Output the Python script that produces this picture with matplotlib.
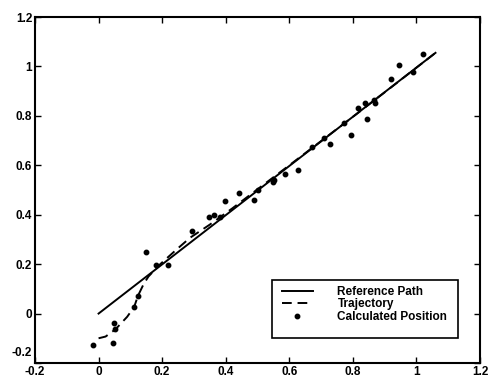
import matplotlib.pyplot as plt
import matplotlib.transforms as mtransforms
from matplotlib.patches import Rectangle
import numpy as np

plt.rcParams['font.family'] = ['Liberation Sans', 'DejaVu Sans']

# Reference path (straight line)
ref_x = [0.0, 1.06]
ref_y = [0.0, 1.055]

# Trajectory (dashed)
traj_x = [0.0, 0.022, 0.053, 0.09, 0.112, 0.124, 0.142, 0.157, 0.194, 0.246,
          0.288, 0.35, 0.42, 0.5, 0.6, 0.7, 0.8, 0.9, 1.0, 1.06]
traj_y = [-0.10, -0.093, -0.064, -0.013, 0.027, 0.072, 0.12, 0.15, 0.2, 0.26,
          0.307, 0.36, 0.425, 0.503, 0.6, 0.698, 0.796, 0.895, 0.995, 1.055]

# Calculated positions (dots)
calc_x = [-0.017, 0.046, 0.05, 0.053, 0.112, 0.124, 0.15, 0.181, 0.219, 0.293,
          0.348, 0.363, 0.381, 0.397, 0.443, 0.489, 0.502, 0.55, 0.551, 0.588,
          0.628, 0.673, 0.709, 0.727, 0.772, 0.795, 0.816, 0.839, 0.846, 0.867,
          0.871, 0.921, 0.944, 0.988, 1.022]
calc_y = [-0.129, -0.119, -0.039, -0.064, 0.027, 0.072, 0.249, 0.196, 0.196, 0.336,
          0.391, 0.40, 0.391, 0.457, 0.487, 0.461, 0.50, 0.533, 0.54, 0.564,
          0.579, 0.676, 0.711, 0.685, 0.771, 0.723, 0.831, 0.851, 0.788, 0.864,
          0.853, 0.951, 1.004, 0.979, 1.052]

ticks = [-0.2, 0, 0.2, 0.4, 0.6, 0.8, 1, 1.2]
tick_labels = ['-0.2', '0', '0.2', '0.4', '0.6', '0.8', '1', '1.2']

fig = plt.figure(figsize=(4.89, 3.81), dpi=100)
ax = fig.add_axes([35/489, 1 - 363/381, 445/489, 346/381])

ax.plot(ref_x, ref_y, color='black', linewidth=1.4, label='Reference Path')
ax.plot(traj_x, traj_y, color='black', linewidth=1.4, linestyle=(0, (5, 3)),
        label='Trajectory')
ax.plot(calc_x, calc_y, linestyle='none', marker='o', markersize=3.2,
        color='black', label='Calculated Position')

ax.set_xlim(-0.2, 1.2)
ax.set_ylim(-0.2, 1.2)
ax.set_xticks(ticks)
ax.set_yticks(ticks)
ax.set_xticklabels(tick_labels)
ax.set_yticklabels(tick_labels)
ax.tick_params(direction='in', top=True, right=True, length=4, width=1,
               labelsize=8.5, pad=2)
for lab in ax.get_xticklabels() + ax.get_yticklabels():
    lab.set_fontweight('bold')
# lift the bottom y label off the corner, MATLAB style
lab0 = ax.get_yticklabels()[0]
lab0.set_transform(lab0.get_transform() +
                   mtransforms.ScaledTranslation(0, 8/72, fig.dpi_scale_trans))
for s in ax.spines.values():
    s.set_linewidth(1.5)

# legend entries without frame, box drawn separately (extra bottom padding)
leg = ax.legend(loc='upper left', bbox_to_anchor=(0.555, 0.222),
                frameon=False, prop={'size': 8.5, 'weight': 'bold'},
                handlelength=2.6, borderpad=0, labelspacing=0.02,
                handletextpad=2.1, borderaxespad=0)
ax.add_patch(Rectangle((0.5326, 0.0723), 0.418, 0.1676, transform=ax.transAxes,
                       fill=False, edgecolor='black', linewidth=1.2, zorder=5))

fig.savefig('out.png', dpi=100)
